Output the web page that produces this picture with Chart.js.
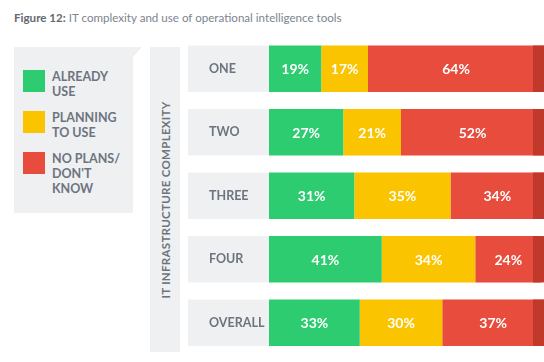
<!DOCTYPE html>
<html>
<head>
<meta charset="utf-8">
<script src="https://cdn.jsdelivr.net/npm/chart.js@4"></script>
<style>
  body { margin: 0; background: #fff; font-family: Lato, "Open Sans", sans-serif; }
  #wrap { position: relative; width: 544px; height: 362px; overflow: hidden; }
  #title { position: absolute; left: 14px; top: 11px; font-size: 11.6px; color: #7d848e; white-space: nowrap; }
  #title b { color: #626973; }
  #legend { position: absolute; left: 14px; top: 47px; width: 128px; height: 166px; background: #eef0f1;
    clip-path: polygon(0 0, 128px 0, 119px 10px, 119px 166px, 0 166px); }
  .item { position: absolute; left: 9px; }
  .sw { position: absolute; left: 0; top: 0; width: 22px; height: 22px; }
  .lab { position: absolute; left: 29px; top: -1px; font-size: 12.5px; font-weight: bold; color: #6d7480; line-height: 15px; white-space: nowrap; }
  #strip { position: absolute; left: 150px; top: 47px; width: 30px; height: 305px; background: #eef0f1; }
  #strip span { position: absolute; left: 50%; top: 50%; transform: translate(-50%, -50%) rotate(-90deg);
    font-size: 11.5px; font-weight: bold; color: #6d7480; white-space: nowrap; letter-spacing: 0.3px; }
  #c { position: absolute; left: 0; top: 0; }
</style>
</head>
<body>
<div id="wrap">
  <div id="title"><b>Figure 12:</b> IT complexity and use of operational intelligence tools</div>
  <div id="legend"></div>
  <div id="strip"><span>IT INFRASTRUCTURE COMPLEXITY</span></div>
  <canvas id="c" width="544" height="362"></canvas>
</div>
<script>
const categories = ['ONE', 'TWO', 'THREE', 'FOUR', 'OVERALL'];
const seriesNames = ['ALREADY USE', 'PLANNING TO USE', "NO PLANS/ DON'T KNOW"];
const legendLines = [['ALREADY', 'USE'], ['PLANNING', 'TO USE'], ['NO PLANS/', "DON'T", 'KNOW']];
const alreadyUse = [19, 27, 31, 41, 33];
const planningToUse = [17, 21, 35, 34, 30];
const noPlans = [64, 52, 34, 24, 37];
const colors = ['#2ecc71', '#fbc400', '#e74c3c'];

// legend box
const legend = document.getElementById('legend');
const legendTops = [23, 64, 105];
legendLines.forEach((lines, i) => {
  const item = document.createElement('div');
  item.className = 'item';
  item.style.top = legendTops[i] + 'px';
  item.innerHTML = '<div class="sw" style="background:' + colors[i] + '"></div><div class="lab">' + lines.join('<br>') + '</div>';
  legend.appendChild(item);
});

const boxPlugin = {
  id: 'boxes',
  beforeDraw(chart) {
    const ctx = chart.ctx;
    const meta = chart.getDatasetMeta(0);
    ctx.save();
    ctx.fillStyle = '#eef0f1';
    meta.data.forEach(bar => {
      ctx.fillRect(188, bar.y - bar.height / 2, chart.chartArea.left - 188, bar.height);
    });
    ctx.restore();
  },
  afterDatasetsDraw(chart) {
    const ctx = chart.ctx;
    const right = chart.chartArea.right;
    ctx.save();
    // darker edge on the right end of each bar
    ctx.fillStyle = '#c0392b';
    chart.getDatasetMeta(2).data.forEach(bar => {
      ctx.fillRect(right - 11, bar.y - bar.height / 2, 11, bar.height);
    });
    // value labels
    ctx.fillStyle = '#fff';
    ctx.font = 'bold 14px Lato, sans-serif';
    ctx.textAlign = 'center';
    ctx.textBaseline = 'middle';
    chart.data.datasets.forEach((ds, di) => {
      chart.getDatasetMeta(di).data.forEach((bar, i) => {
        const cx = (bar.base + bar.x) / 2;
        ctx.fillText(ds.data[i] + '%', cx, bar.y + 1);
      });
    });
    ctx.restore();
  }
};

new Chart(document.getElementById('c'), {
  type: 'bar',
  data: {
    labels: categories,
    datasets: [
      { label: seriesNames[0], data: alreadyUse, backgroundColor: colors[0] },
      { label: seriesNames[1], data: planningToUse, backgroundColor: colors[1] },
      { label: seriesNames[2], data: noPlans, backgroundColor: colors[2] }
    ]
  },
  options: {
    indexAxis: 'y',
    responsive: false,
    animation: false,
    layout: { padding: { left: 209, right: 0, top: 37, bottom: 2 } },
    datasets: { bar: { barPercentage: 0.73, categoryPercentage: 1 } },
    plugins: { legend: { display: false }, tooltip: { enabled: false } },
    scales: {
      x: { stacked: true, min: 0, max: 100, display: false },
      y: {
        stacked: true,
        grid: { display: false },
        border: { display: false },
        afterFit(scale) { scale.width = 60; },
        ticks: {
          crossAlign: 'far',
          padding: 0,
          color: '#6d7480',
          font: { family: 'Lato, sans-serif', size: 12.5, weight: 'bold' }
        }
      }
    }
  },
  plugins: [boxPlugin]
});
</script>
</body>
</html>
